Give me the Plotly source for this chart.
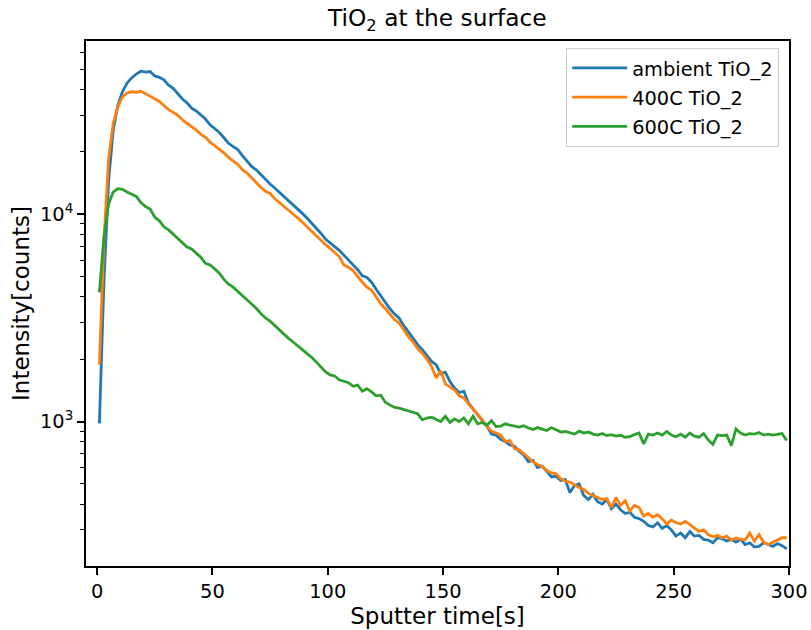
import plotly.graph_objects as go

time_s = list(range(1, 300, 2))

ambient = [
    980, 4800, 14500, 25500, 33500, 39000, 43000, 45500, 47500, 49000,
    48500, 48800, 46500, 45800, 44500, 42000, 40500, 38000, 36000, 34500,
    32500, 31500, 30000, 28800, 27000, 25800, 24800, 23400, 22000, 21200,
    20500, 19200, 18000, 17000, 16400, 15500, 14800, 14000, 13400, 12800,
    12200, 11700, 11100, 10600, 10100, 9600, 9100, 8600, 8100, 7600,
    7300, 7000, 6700, 6350, 6050, 5700, 5400, 5050, 4950, 4700,
    4350, 4050, 3750, 3500, 3300, 3150, 2900, 2700, 2500, 2350,
    2220, 2080, 1950, 1880, 1700, 1730, 1560, 1450, 1380, 1400,
    1230, 1150, 1080, 1020, 950, 870, 860, 820, 800, 770,
    760, 720, 690, 640, 650, 600, 610, 575, 540, 545,
    520, 525, 455, 490, 500, 440, 420, 445, 410, 400,
    420, 380, 400, 375, 360, 365, 345, 340, 330, 315,
    310, 325, 305, 315, 300, 280, 290, 275, 295, 280,
    282, 270, 268, 260, 275, 272, 265, 270, 262, 270,
    255, 260, 248, 250, 260, 255, 250, 258, 252, 243,
]

c400 = [
    1880, 7500, 18500, 27500, 33000, 36800, 38500, 39000, 38800, 39200,
    38200, 37000, 36000, 35000, 33500, 32000, 31000, 30000, 28500, 27500,
    26500, 25500, 24300, 23500, 22300, 21500, 20600, 19800, 18800, 18000,
    17400, 16400, 15800, 15000, 14200, 13500, 12900, 12600, 11900, 11400,
    11000, 10500, 10000, 9600, 9150, 8700, 8300, 7900, 7500, 7150,
    6850, 6550, 6250, 5700, 5550, 5350, 5000, 4700, 4450, 4300,
    4000, 3700, 3500, 3300, 3100, 2980, 2750, 2570, 2420, 2250,
    2130, 2000, 1850, 1620, 1760, 1520, 1470, 1420, 1330, 1300,
    1220, 1150, 1080, 1020, 950, 900, 880, 860, 800, 810,
    740, 730, 700, 670, 640, 620, 605, 580, 565, 560,
    530, 515, 510, 495, 480, 470, 450, 440, 430, 420,
    425, 385, 430, 395, 415, 370, 395, 385, 350, 360,
    345, 355, 340, 320, 335, 325, 320, 330, 318, 305,
    295, 300, 285, 278, 283, 275, 280, 268, 274, 270,
    268, 290, 265, 285, 262, 255, 262, 270, 275, 275,
]

c600 = [
    4200, 7800, 11200, 12800, 13300, 13200, 12800, 12500, 12200, 11400,
    10900, 10600, 9700, 9300, 8700, 8400, 8000, 7700, 7300, 6950,
    6800, 6500, 6200, 5800, 5700, 5450, 5200, 4850, 4600, 4450,
    4250, 4050, 3880, 3700, 3520, 3320, 3160, 3050, 2900, 2760,
    2620, 2520, 2420, 2320, 2220, 2140, 2040, 1940, 1840, 1740,
    1680, 1660, 1590, 1560, 1540, 1480, 1500, 1400, 1440, 1390,
    1330, 1340, 1240, 1200, 1170, 1160, 1140, 1120, 1100, 1090,
    1020, 1040, 1050, 1020, 1000, 1060, 990, 1030, 1000, 1040,
    975, 1060, 975, 990, 960, 1010, 945, 950, 975, 960,
    950, 940, 955, 930, 915, 935, 920, 905, 935, 910,
    890, 895, 880, 870, 900, 880, 890, 870, 860, 875,
    855, 865, 850, 860, 840, 845, 865, 880, 780, 870,
    860, 880, 860, 895, 860, 845, 870, 840, 880, 850,
    840, 875, 815, 775, 860, 855, 860, 765, 920, 880,
    860, 875, 870, 885, 860, 870, 860, 865, 875, 810,
]

names = ["ambient TiO_2", "400C TiO_2", "600C TiO_2"]
colors = ["#1f77b4", "#ff7f0e", "#2ca02c"]
series = [ambient, c400, c600]

x_ticks = [0, 50, 100, 150, 200, 250, 300]
y_ticks = [1000, 10000]
y_ticktext = ["10<sup>3</sup>", "10<sup>4</sup>"]
y_minor = [200, 300, 400, 500, 600, 700, 800, 900,
           2000, 3000, 4000, 5000, 6000, 7000, 8000, 9000,
           20000, 30000, 40000, 50000, 60000]

FONT = "DejaVu Sans"
FS = 19.4
fig = go.Figure()
for i, (nm, col, ys) in enumerate(zip(names, colors, series)):
    fig.add_trace(go.Scatter(x=time_s, y=ys, mode="lines", name=nm,
                             legendgroup=str(i),
                             line=dict(color=col, width=2.8)))

fig.update_layout(
    width=811, height=630,
    margin=dict(l=86, r=22, t=41, b=64),
    plot_bgcolor="white", paper_bgcolor="white",
    font=dict(family=FONT, size=FS, color="black"),
    title=dict(text="TiO<sub>2</sub> at the surface", x=0.5393, xanchor="center",
               y=0.971, yanchor="middle", font=dict(size=23.3)),
    legend=dict(x=0.986, xanchor="right", y=0.987, yanchor="top",
                bordercolor="#cccccc", borderwidth=1, bgcolor="white",
                tracegroupgap=1, itemwidth=55, font=dict(size=FS)),
)
fig.update_xaxes(
    range=[-4.8, 300], tickvals=x_ticks, ticks="outside", ticklen=7, tickwidth=1.5,
    tickcolor="black", showline=True, linecolor="black", linewidth=1.5, mirror=True,
    showgrid=False, zeroline=False, automargin=False,
    title=dict(text="Sputter time[s]", standoff=0),
)
fig.update_yaxes(
    type="log", range=[2.303, 4.836], tickvals=y_ticks, ticktext=y_ticktext,
    ticks="outside", ticklen=7, tickwidth=1.5, tickcolor="black",
    minor=dict(tickvals=y_minor, ticks="outside", ticklen=4, tickwidth=1.2,
               tickcolor="black", showgrid=False),
    showline=True, linecolor="black", linewidth=1.5, mirror=True,
    showgrid=False, zeroline=False, automargin=False,
    title=dict(text="Intensity[counts]", standoff=4),
)

fig.write_html("out.html")
